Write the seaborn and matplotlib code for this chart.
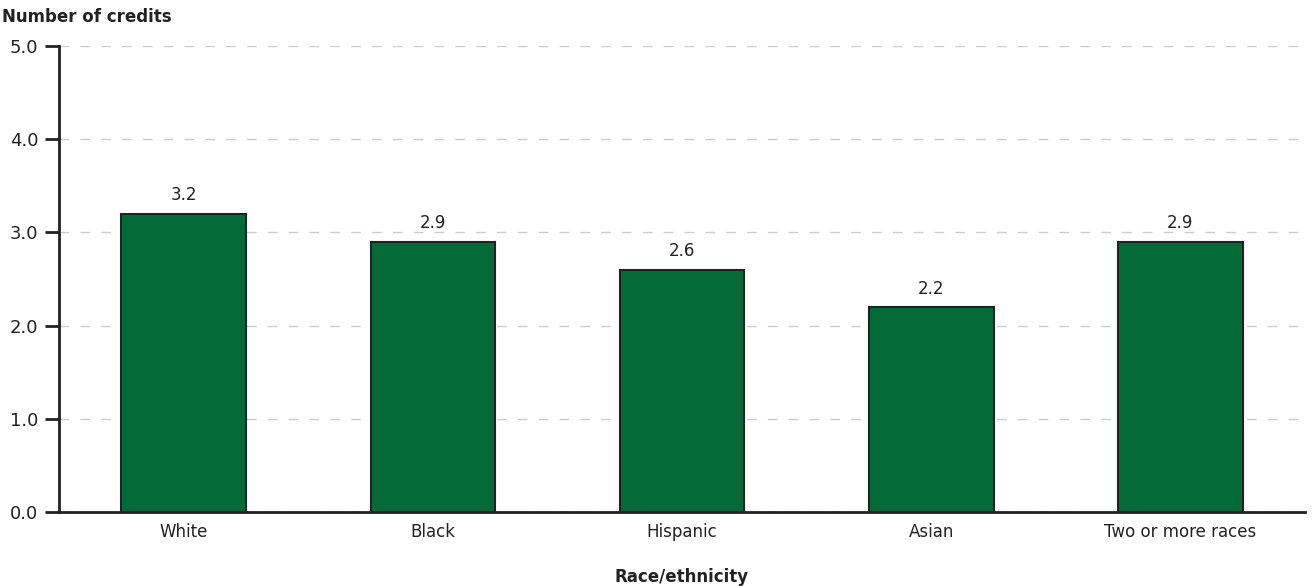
import matplotlib
matplotlib.use("Agg")
import matplotlib.pyplot as plt
import seaborn as sns
import pandas as pd

categories = ["White", "Black", "Hispanic", "Asian", "Two or more races"]
values = [3.2, 2.9, 2.6, 2.2, 2.9]
yticks = [0.0, 1.0, 2.0, 3.0, 4.0, 5.0]

sns.set_theme(style="white")
plt.rcParams['font.family'] = ['DejaVu Sans']

df = pd.DataFrame({"cat": categories, "val": values})

fig = plt.figure(figsize=(13.12, 5.86), dpi=100)
ax = fig.add_axes([59/1312, 1-512/586, 1246/1312, 466/586])

sns.barplot(data=df, x="cat", y="val", color="#046A38", saturation=1,
            width=0.5, edgecolor="#222222", linewidth=1.5, ax=ax, zorder=3)

ax.set_ylim(0, 5)
ax.set_xlim(-0.5, 4.5)
ax.set_yticks(yticks)
ax.set_yticklabels([f"{t:.1f}" for t in yticks], fontsize=13, color="#222222")
ax.tick_params(axis="y", length=10, width=2, color="#222222", left=True, pad=5)
ax.tick_params(axis="x", length=0, labelsize=12, labelcolor="#222222", pad=8)
ax.grid(axis="y", linestyle=(0, (7, 8)), color="#cccccc", linewidth=1, zorder=0)
ax.set_axisbelow(True)
for s in ["top", "right"]:
    ax.spines[s].set_visible(False)
for s in ["left", "bottom"]:
    ax.spines[s].set_color("#222222")
    ax.spines[s].set_linewidth(2)

for i, v in enumerate(values):
    ax.text(i, v + 0.1, f"{v:.1f}", ha="center", va="bottom", fontsize=12, color="#222222")

ax.set_ylabel("")
ax.set_xlabel("")
fig.text(682/1312, 1-577/586, "Race/ethnicity", fontsize=12, fontweight="bold",
         color="#222222", ha="center", va="center")
fig.text(2/1312, 1-17/586, "Number of credits", fontsize=12, fontweight="bold",
         color="#222222", ha="left", va="center")

fig.savefig("out.png", dpi=100)
